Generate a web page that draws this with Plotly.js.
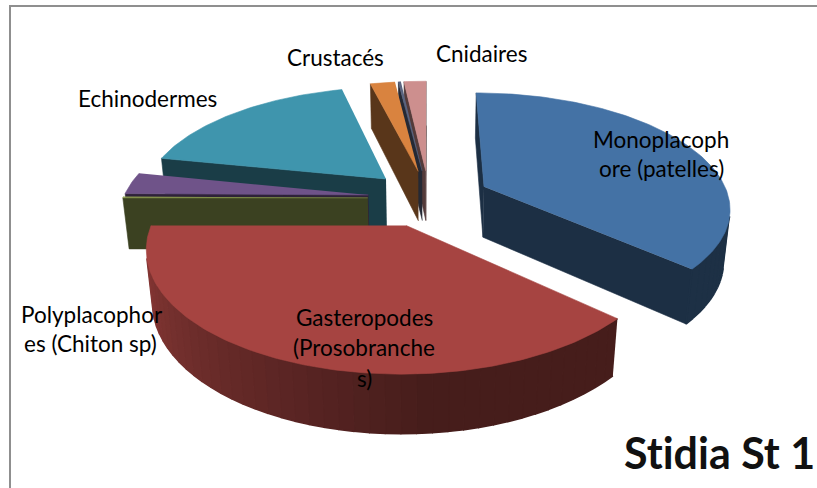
<!DOCTYPE html>
<html><head><meta charset="utf-8">
<script src="https://cdn.plot.ly/plotly-3.0.1.min.js"></script>
<style>html,body{margin:0;padding:0;background:#fff;overflow:hidden}</style>
</head><body><div id="chart" style="width:817px;height:488px"></div>
<script>
// Data: share of each group (%), clockwise from north
const categories = ["Monoplacophore (patelles)","Gasteropodes (Prosobranches)","Polyplacophores (Chiton sp)","","Echinodermes","Crustacés","","Cnidaires"];
const values = [36.7, 38.3, 0.2, 3.0, 17.9, 1.95, 0.2, 1.75];
const topColors = ["#4472A5","#A64441","#8F9F50","#6F5389","#3F95AD","#D9833F","#5A6480","#CD8F8E"];
const drawOrder = [7,6,5,4,3,2,0,1];

const labelText = ["Crustacés","Cnidaires","Echinodermes","Monoplacoph","ore (patelles)","Polyplacophor","es (Chiton sp)","Gasteropodes","(Prosobranche","s)"];
const labelX = [335,481,147,661,661,92,90,364,364,364];
const labelY = [57,53,98,139,168,314,343,317,347,378];

// 3-D view of the pie
const view = {cx:429, cy:198, G:245, k:0.19, phi:27.5*Math.PI/180, e:0.25, h:0.24};
const rad = d => d*Math.PI/180;
function project(X,Y,Z){
  const c=Math.cos(view.phi), s=Math.sin(view.phi);
  const d=1+view.k*(Y*c-Z*s);
  return [view.cx+view.G*X/d, view.cy-view.G*(Y*s+Z*c)/d];
}
function scale(hex,f){
  const n=parseInt(hex.slice(1),16);
  const p=[n>>16,(n>>8)&255,n&255].map(v=>Math.round(v*f));
  return `rgb(${p.join(",")})`;
}
function rimShade(theta){
  if(theta<=175) return 0.42;
  if(theta>=270) return 0.86;
  return 0.42+0.44*(theta-175)/95;
}
const total = values.reduce((a,b)=>a+b,0);
const traces=[];
function poly(pts,color,w){
  traces.push({type:"scatter",mode:"lines",x:pts.map(p=>p[0]),y:pts.map(p=>p[1]),
    fill:"toself",fillcolor:color,line:{color:color,width:w===undefined?0.6:w},hoverinfo:"skip",showlegend:false});
}
function area(p){let a=0;for(let i=0;i<p.length;i++){const q=p[(i+1)%p.length];a+=p[i][0]*q[1]-q[0]*p[i][1];}return a;}
function face(pts,color,w){ if(area(pts)<0) poly(pts,color,w); }

let acc=0; const slices=values.map((v,i)=>{const a=acc/total*360;acc+=v;return {i,a,b:acc/total*360};});
drawOrder.forEach(idx=>{
  const {a,b}=slices[idx], col=topColors[idx];
  const mid=rad((a+b)/2), ox=view.e*Math.sin(mid), oy=view.e*Math.cos(mid);
  const P=(t,Z)=>project(ox+Math.sin(rad(t)),oy+Math.cos(rad(t)),Z);
  const C=Z=>project(ox,oy,Z);
  const dark=scale(col,0.41);
  face([C(0),P(a,0),P(a,-view.h),C(-view.h)],dark);
  face([P(b,0),C(0),C(-view.h),P(b,-view.h)],dark);
  const step=3;
  for(let t=a;t<b;t+=step){
    const t2=Math.min(b,t+step);
    face([P(t,0),P(t2,0),P(t2,-view.h),P(t,-view.h)],scale(col,rimShade((t+t2)/2)),1.6);
  }
  const top=[C(0)]; 
  const n=Math.max(2,Math.ceil((b-a)));
  for(let j=0;j<=n;j++) top.push(P(a+(b-a)*j/n,0));
  poly(top,col);
});

const annotations=labelText.map((t,i)=>({text:t,x:labelX[i],y:labelY[i],xref:"x",yref:"y",showarrow:false,
  xanchor:"center",yanchor:"middle",font:{family:"Lato, Carlito, sans-serif",size:22.5,color:"#000"}}));
annotations.push({text:"<b>St\u200Cidia St 1</b>",x:817,y:452,xref:"x",yref:"y",showarrow:false,xanchor:"right",yanchor:"middle",
  font:{family:"Lato, Carlito, sans-serif",size:43,color:"#111"}});

const layout={width:817,height:488,margin:{l:0,r:0,t:0,b:0},paper_bgcolor:"#fff",plot_bgcolor:"#fff",showlegend:false,
  xaxis:{range:[0,817],visible:false,fixedrange:true},yaxis:{range:[488,0],visible:false,fixedrange:true},
  annotations,
  shapes:[
   {type:"line",xref:"x",yref:"y",x0:10,x1:817,y0:6,y1:6,line:{color:"#8f8f8f",width:2}},
   {type:"line",xref:"x",yref:"y",x0:10,x1:10,y0:5,y1:488,line:{color:"#8f8f8f",width:2}}
  ]};
Plotly.newPlot("chart",traces,layout,{displayModeBar:false,staticPlot:true});
</script></body></html>
